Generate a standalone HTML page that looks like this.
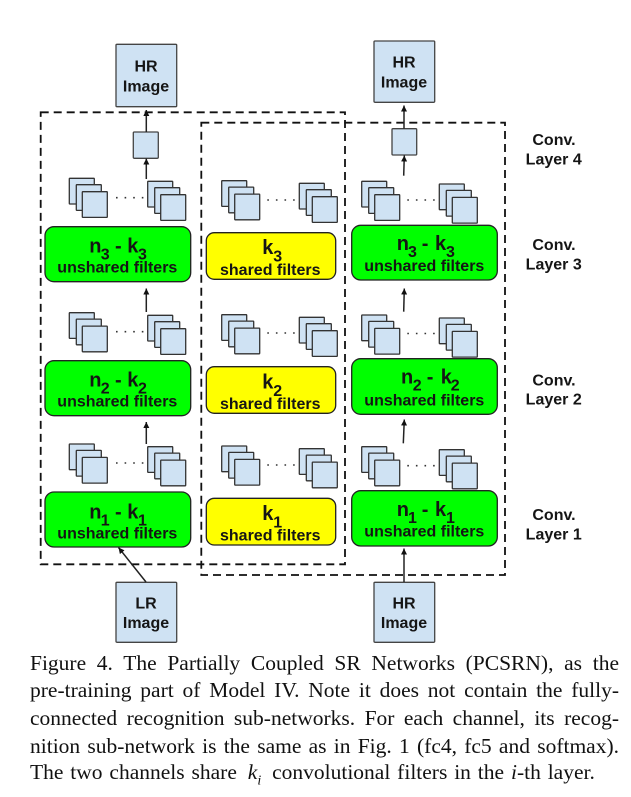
<!DOCTYPE html>
<html><head><meta charset="utf-8">
<style>
html,body{margin:0;padding:0;background:#fff;width:631px;height:797px;overflow:hidden}
body{filter:blur(.35px)}
svg{position:absolute;left:0;top:0}
svg text{font-family:"Liberation Sans",sans-serif;font-weight:bold;fill:#151515}
.m{font-size:20px}.s{font-size:16px}.c{text-anchor:middle;font-size:16px}
.cap{position:absolute;left:30px;width:589px;font:21.5px/27px "Liberation Serif",serif;color:#111;white-space:nowrap;text-align:justify;text-align-last:justify}
.cap sub{font-size:14px;line-height:0}
</style></head><body>
<svg width="631" height="797" viewBox="0 0 631 797">
<defs>
<g id="st1" fill="#cfe2f3" stroke="#333" stroke-width="1.3">
<rect x="0" y="0" width="25" height="25.7" rx=".5"/><rect x="7" y="6.4" width="25" height="25.7" rx=".5"/><rect x="13" y="13.4" width="25" height="25.7" rx=".5"/>
</g>
<marker id="a" markerWidth="7" markerHeight="7" refX="6" refY="3" orient="auto" markerUnits="userSpaceOnUse"><path d="M0 0L6 3L0 6Z" fill="#111"/></marker>
</defs>
<g fill="none" stroke="#111" stroke-width="1.8" stroke-dasharray="8 5">
<rect x="40.7" y="112.3" width="304.3" height="452"/>
<rect x="201.3" y="122.7" width="303.7" height="452.3"/>
</g>
<g fill="#cfe2f3" stroke="#444" stroke-width="1.3">
<rect x="116" y="44.3" width="60.7" height="62.4" rx="1"/>
<rect x="133.3" y="132" width="25" height="26.3" rx="1"/>
<rect x="116" y="582.3" width="60.7" height="60" rx="1"/>
<rect x="374" y="41" width="60.7" height="61.3" rx="1"/>
<rect x="392" y="128.7" width="24.7" height="26.3" rx="1"/>
<rect x="374" y="582.3" width="60.7" height="60" rx="1"/>
</g>
<use href="#st1" x="69.3" y="178.3"/><use href="#st1" x="147.7" y="181.3"/>
<use href="#st1" x="221.7" y="180.7"/><use href="#st1" x="299.3" y="183.3"/>
<use href="#st1" x="361.7" y="181.3"/><use href="#st1" x="439.3" y="184"/>
<use href="#st1" x="69.3" y="312.7"/><use href="#st1" x="147.7" y="315.3"/>
<use href="#st1" x="221.7" y="314.7"/><use href="#st1" x="299.3" y="317.3"/>
<use href="#st1" x="361.7" y="315"/><use href="#st1" x="439.3" y="318"/>
<use href="#st1" x="69.3" y="444"/><use href="#st1" x="147.7" y="446.7"/>
<use href="#st1" x="221.7" y="446"/><use href="#st1" x="299.3" y="448.7"/>
<use href="#st1" x="361.7" y="446.7"/><use href="#st1" x="439.3" y="449.7"/>
<g stroke="#333" stroke-width="1.6" stroke-dasharray="1.6 7" fill="none">
<path d="M116 197.7H144M116 331.7H144M116 463H144"/>
<path d="M267.3 200H296M267.3 333H296M267.3 465H296"/>
<path d="M407.3 200H436M407.3 333.5H436M407.3 465.7H436"/>
</g>
<g stroke="#222" stroke-width="1.3">
<rect x="45" y="226.7" width="145.7" height="55" rx="9" fill="#00ff00"/>
<rect x="45" y="360.7" width="145.7" height="55" rx="9" fill="#00ff00"/>
<rect x="45" y="492" width="145.7" height="55" rx="9" fill="#00ff00"/>
<rect x="351.7" y="225.3" width="145.6" height="54.7" rx="9" fill="#00ff00"/>
<rect x="351.7" y="358.7" width="145.6" height="55.6" rx="9" fill="#00ff00"/>
<rect x="351.7" y="490.7" width="145.6" height="55.3" rx="9" fill="#00ff00"/>
<rect x="206.3" y="232.7" width="129.4" height="46.6" rx="8" fill="#ffff00"/>
<rect x="206.3" y="366.7" width="129.4" height="46.6" rx="8" fill="#ffff00"/>
<rect x="206.3" y="498.3" width="129.4" height="46.7" rx="8" fill="#ffff00"/>
</g>
<g stroke="#222" stroke-width="1.5" fill="none">
<path d="M146.3 132V110" marker-end="url(#a)"/>
<path d="M146.3 179V158.5" marker-end="url(#a)"/>
<path d="M146.3 312V288.5" marker-end="url(#a)"/>
<path d="M146.3 444V422" marker-end="url(#a)"/>
<path d="M146 582L118.5 547.5" marker-end="url(#a)"/>
<path d="M404 128.7V105.5" marker-end="url(#a)"/>
<path d="M403.7 175.7L404.3 155.5" marker-end="url(#a)"/>
<path d="M403.7 311.7L404.3 288.5" marker-end="url(#a)"/>
<path d="M403.3 443.3L404.3 419.5" marker-end="url(#a)"/>
<path d="M404 582V548.5" marker-end="url(#a)"/>
</g>
<text class="c" x="146" y="71.3">HR</text><text class="c" x="146" y="91.3">Image</text>
<text class="c" x="404" y="67.7">HR</text><text class="c" x="404" y="87.7">Image</text>
<text class="c" x="146" y="608.3">LR</text><text class="c" x="146" y="628">Image</text>
<text class="c" x="404" y="608.3">HR</text><text class="c" x="404" y="628">Image</text>
<text class="c" x="554" y="145">Conv.</text><text class="c" x="553.7" y="164.3">Layer 4</text>
<text class="c" x="554" y="250">Conv.</text><text class="c" x="553.7" y="269.3">Layer 3</text>
<text class="c" x="554" y="385.3">Conv.</text><text class="c" x="553.7" y="404.7">Layer 2</text>
<text class="c" x="554" y="520">Conv.</text><text class="c" x="553.7" y="539.3">Layer 1</text>

<text class="m" y="252.7"><tspan x="89.3">n</tspan><tspan class="s" x="100.7" dy="7">3</tspan><tspan x="115" dy="-7">-</tspan><tspan x="127.3">k</tspan><tspan class="s" x="138" dy="7">3</tspan></text>
<text class="s" x="57.3" y="272.7">unshared filters</text>
<text class="m" y="386.7"><tspan x="89.3">n</tspan><tspan class="s" x="100.7" dy="7">2</tspan><tspan x="115" dy="-7">-</tspan><tspan x="127.3">k</tspan><tspan class="s" x="138" dy="7">2</tspan></text>
<text class="s" x="57.3" y="406.7">unshared filters</text>
<text class="m" y="518.3"><tspan x="89.3">n</tspan><tspan class="s" x="100.7" dy="7">1</tspan><tspan x="115" dy="-7">-</tspan><tspan x="127.3">k</tspan><tspan class="s" x="138" dy="7">1</tspan></text>
<text class="s" x="57.3" y="538.3">unshared filters</text>

<text class="m" y="250"><tspan x="396.7">n</tspan><tspan class="s" x="408" dy="7">3</tspan><tspan x="421.7" dy="-7">-</tspan><tspan x="435">k</tspan><tspan class="s" x="446" dy="7">3</tspan></text>
<text class="s" x="364.3" y="271">unshared filters</text>
<text class="m" y="383.3"><tspan x="401">n</tspan><tspan class="s" x="412.7" dy="7">2</tspan><tspan x="426.7" dy="-7">-</tspan><tspan x="440.7">k</tspan><tspan class="s" x="450.7" dy="7">2</tspan></text>
<text class="s" x="364.3" y="405.3">unshared filters</text>
<text class="m" y="516"><tspan x="396.7">n</tspan><tspan class="s" x="408" dy="7">1</tspan><tspan x="421.7" dy="-7">-</tspan><tspan x="435">k</tspan><tspan class="s" x="446" dy="7">1</tspan></text>
<text class="s" x="364.3" y="536.7">unshared filters</text>

<text class="m" y="254"><tspan x="262.3">k</tspan><tspan class="s" x="273.3" dy="7.5">3</tspan></text>
<text class="s" x="220" y="275">shared filters</text>
<text class="m" y="388.3"><tspan x="262.3">k</tspan><tspan class="s" x="273.3" dy="7.5">2</tspan></text>
<text class="s" x="220" y="409">shared filters</text>
<text class="m" y="520"><tspan x="262.3">k</tspan><tspan class="s" x="273.3" dy="7.5">1</tspan></text>
<text class="s" x="220" y="540.7">shared filters</text>
</svg>
<div class="cap" style="top:650px">Figure 4. The Partially Coupled SR Networks (PCSRN), as the</div>
<div class="cap" style="top:677.3px">pre-training part of Model IV. Note it does not contain the fully-</div>
<div class="cap" style="top:705px">connected recognition sub-networks. For each channel, its recog-</div>
<div class="cap" style="top:732.5px">nition sub-network is the same as in Fig. 1 (fc4, fc5 and softmax).</div>
<div class="cap" style="top:759px;text-align:left;text-align-last:left;word-spacing:1.5px">The two channels share <i style="margin:0 4px">k<sub>i</sub></i> convolutional filters in the <i>i</i>-th layer.</div>
</body></html>
